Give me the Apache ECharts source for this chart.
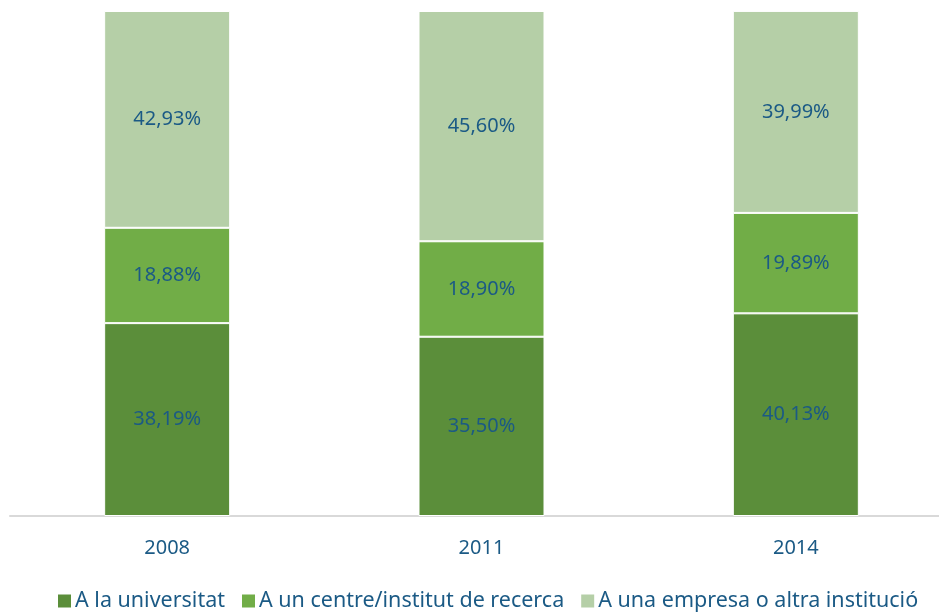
<!DOCTYPE html>
<html>
<head>
	<meta charset="utf-8" />
	<title>Chart</title>
	<script src="https://cdn.jsdelivr.net/npm/echarts@6/dist/echarts.min.js"></script>
	<style>
		html, body { margin: 0; padding: 0; background: #fff; }
		#chart { width: 939px; height: 613px; }
	</style>
</head>
<body>
	<div id="chart"></div>
	<script type="text/javascript">
		const years = ['2008', '2011', '2014'];
		const seriesNames = ['A la universitat', 'A un centre/institut de recerca', 'A una empresa o altra institució'];
		const universitat = [38.19, 35.50, 40.13];
		const centre = [18.88, 18.90, 19.89];
		const empresa = [42.93, 45.60, 39.99];

		const colors = ['#5b8e3a', '#71ad47', '#b5cfa7'];
		const textColor = '#1b5a85';
		const font = '"Noto Sans", sans-serif';

		const chart = echarts.init(document.getElementById('chart'));

		const fmt = function (p) {
			return p.value.toFixed(2).replace('.', ',') + '%';
		};

		const makeSeries = function (name, data, i) {
			return {
				name: name,
				type: 'bar',
				stack: 'total',
				barWidth: 126,
				data: data,
				itemStyle: {
					color: colors[i],
					borderColor: '#ffffff',
					borderWidth: 1
				},
				label: {
					show: true,
					position: 'inside',
					formatter: fmt,
					color: textColor,
					fontFamily: font,
					fontSize: 20
				}
			};
		};

		chart.setOption({
			animation: false,
			color: colors,
			grid: {
				left: 10,
				width: 943,
				top: 11,
				bottom: 97,
				containLabel: false,
				outerBoundsMode: 'none'
			},
			legend: {
				bottom: -4,
				left: 51,
				width: 888,
				padding: 5,
				itemWidth: 15,
				itemHeight: 15,
				itemGap: 15,
				icon: 'rect',
				textStyle: {
					color: textColor,
					fontFamily: font,
					fontSize: 21.5,
					padding: [0, 0, 0, -2]
				},
				data: seriesNames
			},
			xAxis: {
				type: 'category',
				data: years,
				axisLine: { lineStyle: { color: '#d9d9d9', width: 2 } },
				axisTick: { show: false },
				axisLabel: {
					color: textColor,
					fontFamily: font,
					fontSize: 20,
					margin: 22
				}
			},
			yAxis: {
				type: 'value',
				min: 0,
				max: 100,
				show: false,
				splitLine: { show: false }
			},
			series: [
				makeSeries(seriesNames[0], universitat, 0),
				makeSeries(seriesNames[1], centre, 1),
				makeSeries(seriesNames[2], empresa, 2)
			]
		});
	</script>
</body>
</html>
